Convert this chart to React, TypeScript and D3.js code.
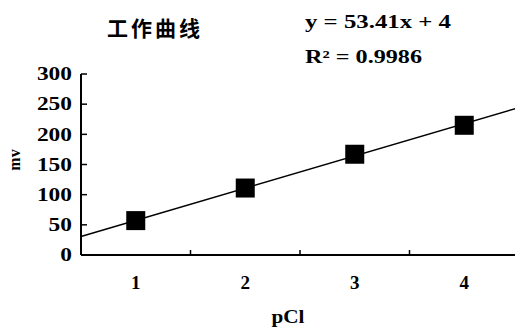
import React from 'react';
import * as d3 from 'd3';

// pCl categories and measured potential (mV)
const categories = [1, 2, 3, 4];
const mvValues = [57, 111, 167, 215];
const yTicks = [0, 50, 100, 150, 200, 250, 300];
const slope = 53.41;
const intercept = 4;

const W = 515;
const H = 329;
const margin = { top: 74, right: -4, bottom: 74, left: 81 };
const serif = '"Liberation Serif", "Times New Roman", serif';

function App() {
  const plotW = W - margin.left - margin.right;
  const plotH = H - margin.top - margin.bottom;

  const x = d3.scaleLinear().domain([0.5, 4.5]).range([margin.left, margin.left + plotW]);
  const y = d3.scaleLinear().domain([0, 300]).range([margin.top + plotH, margin.top]);

  const trend = d3.line<number>()
    .x(d => x(d))
    .y(d => y(slope * d + intercept));

  const size = 19;

  return (
    <svg width={W} height={H} style={{ position: 'absolute', left: 0, top: 0, background: '#fff' }}>
      <text x={107} y={36} fontFamily='"Noto Sans CJK SC"' fontSize={21} fontWeight={700} letterSpacing={3}>工作曲线</text>
      <text x={305} y={28} fontFamily={serif} fontSize={18} fontWeight={700} textLength={146}
        lengthAdjust="spacingAndGlyphs">y = 53.41x + 4</text>
      <text x={305} y={63} fontFamily={serif} fontSize={18} fontWeight={700} textLength={117}
        lengthAdjust="spacingAndGlyphs">R² = 0.9986</text>

      {/* axes */}
      <line x1={x(0.5)} x2={x(0.5)} y1={y(300)} y2={y(0)} stroke="#000" strokeWidth={2} />
      <line x1={x(0.5)} x2={W} y1={y(0)} y2={y(0)} stroke="#000" strokeWidth={2} />
      {yTicks.map(t => (
        <g key={t}>
          <line x1={x(0.5)} x2={x(0.5) + 6} y1={y(t)} y2={y(t)} stroke="#000" strokeWidth={1.5} />
          <text x={72} y={y(t)} dy="0.35em" textAnchor="end" fontFamily={serif} fontSize={18}
            fontWeight={700} textLength={String(t).length * 11.7} lengthAdjust="spacingAndGlyphs">{t}</text>
        </g>
      ))}
      {[1.5, 2.5, 3.5].map(t => (
        <line key={t} x1={x(t)} x2={x(t)} y1={y(0)} y2={y(0) - 5} stroke="#000" strokeWidth={1.5} />
      ))}
      {categories.map(c => (
        <text key={c} x={x(c)} y={282} dy="0.35em" textAnchor="middle" fontFamily={serif}
          fontSize={19} fontWeight={700}>{c}</text>
      ))}
      <text x={288} y={323} textAnchor="middle" fontFamily={serif} fontSize={19} fontWeight={700}
        textLength={33} lengthAdjust="spacingAndGlyphs">pCl</text>
      <text transform={`translate(20,160) rotate(-90)`} textAnchor="middle" fontFamily={serif}
        fontSize={16} fontWeight={700}>mv</text>

      {/* trendline */}
      <path d={trend([0.5, 4.5]) || ''} fill="none" stroke="#000" strokeWidth={1.5} />

      {/* data points */}
      {categories.map((c, i) => (
        <rect key={c} x={x(c) - size / 2} y={y(mvValues[i]) - size / 2} width={size} height={size} fill="#000" />
      ))}
    </svg>
  );
}

export default App;
